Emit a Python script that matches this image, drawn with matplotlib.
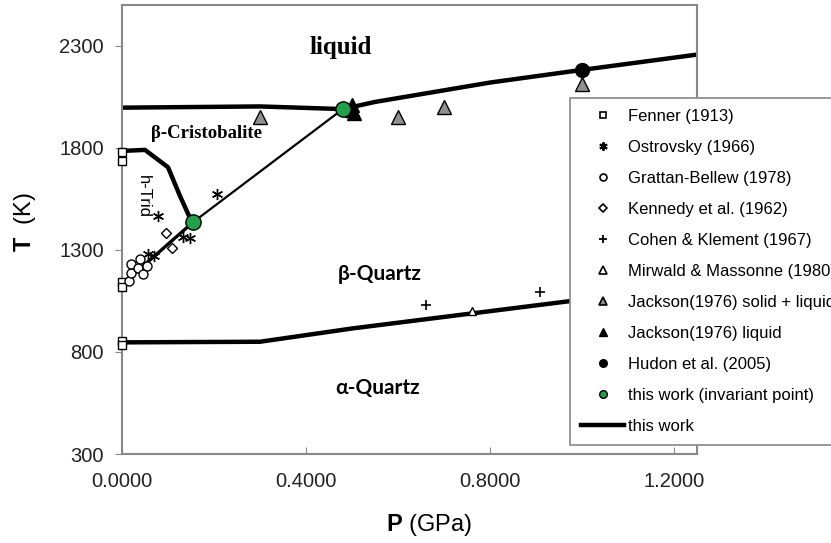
import matplotlib
matplotlib.use("Agg")
import matplotlib.pyplot as plt
from matplotlib.lines import Line2D

plt.rcParams["mathtext.fontset"] = "custom"
plt.rcParams["mathtext.bf"] = "Liberation Sans:bold"
plt.rcParams["mathtext.rm"] = "Liberation Sans"

# data (P in GPa, T in K)
fenner_p = [0.0, 0.0, 0.0, 0.0, 0.0, 0.0]
fenner_t = [1780, 1737, 1145, 1120, 855, 835]

ostrovsky_p = [0.079, 0.206, 0.057, 0.070, 0.133, 0.148]
ostrovsky_t = [1466, 1573, 1280, 1268, 1363, 1360]

grattan_p = [0.015, 0.020, 0.020, 0.035, 0.040, 0.045, 0.055]
grattan_t = [1150, 1185, 1230, 1210, 1255, 1180, 1222]

kennedy_p = [0.095, 0.108]
kennedy_t = [1385, 1311]

cohen_p = [0.661, 0.909]
cohen_t = [1032, 1093]

mirwald_p = [0.760]
mirwald_t = [999]

jackson_sl_p = [0.30, 0.60, 0.70, 1.00]
jackson_sl_t = [1950, 1950, 1999, 2115]

jackson_l_p = [0.50, 0.50, 0.505]
jackson_l_t = [2010, 1985, 1970]

hudon_p = [1.00]
hudon_t = [2182]

inv_p = [0.154, 0.48]
inv_t = [1435, 1990]

# this work: phase boundaries
cristo_liq_p = [0.0, 0.30, 0.48]
cristo_liq_t = [1997, 2003, 1990]

quartz_liq_p = [0.48, 0.55, 0.80, 1.00, 1.25]
quartz_liq_t = [1990, 2025, 2120, 2182, 2257]

trid_p = [0.0, 0.05, 0.10, 0.125, 0.145, 0.154]
trid_t = [1785, 1790, 1705, 1570, 1470, 1435]

qtrid_p = [0.0, 0.154]
qtrid_t = [1130, 1435]

qcristo_p = [0.154, 0.48]
qcristo_t = [1435, 1990]

ab_p = [0.0, 0.30, 0.50, 0.97, 1.25]
ab_t = [847, 850, 915, 1048, 1130]

xticks = [0.0, 0.4, 0.8, 1.2]
yticks = [300, 800, 1300, 1800, 2300]

W, H = 831, 543
fig = plt.figure(figsize=(W / 100, H / 100), dpi=100)
ax = fig.add_axes([122 / W, (H - 454) / H, 575 / W, 449 / H])

lw = 3.2
for p, t in [(cristo_liq_p, cristo_liq_t), (quartz_liq_p, quartz_liq_t),
             (trid_p, trid_t), (ab_p, ab_t)]:
    ax.plot(p, t, color="black", lw=lw, solid_capstyle="butt", zorder=2)
ax.plot(qtrid_p, qtrid_t, color="black", lw=2.4, zorder=2)
ax.plot(qcristo_p, qcristo_t, color="black", lw=1.6, zorder=2)

mk = dict(linestyle="none", zorder=3)
ax.plot(fenner_p, fenner_t, marker="s", ms=6, mfc="white", mec="black", mew=1, clip_on=False, **mk)
ax.plot(ostrovsky_p, ostrovsky_t, marker=(6, 2, 0), ms=8, mec="black", mew=1, **mk)
ax.plot(grattan_p, grattan_t, marker="o", ms=6.5, mfc="white", mec="black", mew=1, **mk)
ax.plot(kennedy_p, kennedy_t, marker="D", ms=5.5, mfc="white", mec="black", mew=1, **mk)
ax.plot(cohen_p, cohen_t, marker="+", ms=7, mec="black", mew=1.2, **mk)
ax.plot(mirwald_p, mirwald_t, marker="^", ms=6, mfc="white", mec="black", mew=1, **mk)
ax.plot(jackson_sl_p, jackson_sl_t, marker="^", ms=10, mfc="#909090", mec="black", mew=1, **mk)
ax.plot(jackson_l_p, jackson_l_t, marker="^", ms=10, mfc="black", mec="black", mew=1, **mk)
ax.plot(hudon_p, hudon_t, marker="o", ms=10, mfc="black", mec="black", **mk)
ax.plot(inv_p, inv_t, marker="o", ms=11, mfc="#22a04b", mec="black", mew=1, zorder=4, linestyle="none")

ax.set_xlim(0, 1.25)
ax.set_ylim(300, 2500)
ax.set_xticks(xticks)
ax.set_xticklabels(["%.4f" % v for v in xticks])
ax.set_yticks(yticks)
ax.tick_params(axis="x", direction="in", length=5, color="#888888", pad=13)
ax.tick_params(axis="y", direction="out", length=5, color="#888888", pad=8)
for lab in ax.get_xticklabels() + ax.get_yticklabels():
    lab.set_fontfamily("Liberation Sans")
    lab.set_fontsize(14.5)
    lab.set_color("#222222")
for s in ax.spines.values():
    s.set_color("#888888")
    s.set_linewidth(1.5)

fig.text(429 / W, 1 - 525 / H, r"$\mathbf{P}$ (GPa)", ha="center", va="center",
         fontsize=17, family="Liberation Sans")
fig.text(25 / W, 1 - 222 / H, r"$\mathbf{T}$  (K)", ha="center", va="center",
         rotation=90, fontsize=17, family="Liberation Sans")

# region labels
ax.text(0.476, 2290, "liquid", ha="center", va="center", fontsize=18,
        fontweight="bold", family="Liberation Serif")
ax.text(0.184, 1868, "β-Cristobalite", ha="center", va="center", fontsize=13.5,
        fontweight="bold", family="Liberation Serif")
ax.text(0.046, 1563, "h-Trid", ha="center", va="center", fontsize=12,
        rotation=-90, family="Liberation Sans")
ax.text(0.56, 1180, "β-Quartz", ha="center", va="center", fontsize=15,
        fontweight="bold", family=["Lato", "Liberation Serif"])
ax.text(0.555, 625, "α-Quartz", ha="center", va="center", fontsize=15,
        fontweight="bold", family=["Lato", "Liberation Serif"])

handles = [
    Line2D([], [], ls="none", marker="s", ms=5, mfc="white", mec="black", mew=1.2),
    Line2D([], [], ls="none", marker=(6, 2, 0), ms=6, mec="black", mew=1.4),
    Line2D([], [], ls="none", marker="o", ms=5, mfc="white", mec="black", mew=1.2),
    Line2D([], [], ls="none", marker="D", ms=4, mfc="white", mec="black", mew=1.2),
    Line2D([], [], ls="none", marker="+", ms=6, mec="black", mew=1.3),
    Line2D([], [], ls="none", marker="^", ms=5.5, mfc="white", mec="black", mew=1.2),
    Line2D([], [], ls="none", marker="^", ms=5.5, mfc="#909090", mec="black", mew=1.2),
    Line2D([], [], ls="none", marker="^", ms=5.5, mfc="black", mec="black", mew=1),
    Line2D([], [], ls="none", marker="o", ms=5.5, mfc="black", mec="black"),
    Line2D([], [], ls="none", marker="o", ms=5.5, mfc="#22a04b", mec="black", mew=1),
    Line2D([], [], color="black", lw=3.2),
]
labels = ["Fenner (1913)", "Ostrovsky (1966)", "Grattan-Bellew (1978)",
          "Kennedy et al. (1962)", "Cohen & Klement (1967)",
          "Mirwald & Massonne (1980)", "Jackson(1976) solid + liquid",
          "Jackson(1976) liquid", "Hudon et al. (2005)",
          "this work (invariant point)", "this work"]
leg = fig.legend(handles, labels, loc="upper left",
                 bbox_to_anchor=(570 / W, 1 - 98 / H), borderaxespad=0,
                 prop={"family": "Liberation Sans", "size": 12},
                 handlelength=2.6, handletextpad=0.25, labelspacing=0.96,
                 borderpad=0.65, fancybox=False, framealpha=1, edgecolor="#888888")
leg.get_frame().set_linewidth(1.2)

fig.savefig("out.png", dpi=100)
